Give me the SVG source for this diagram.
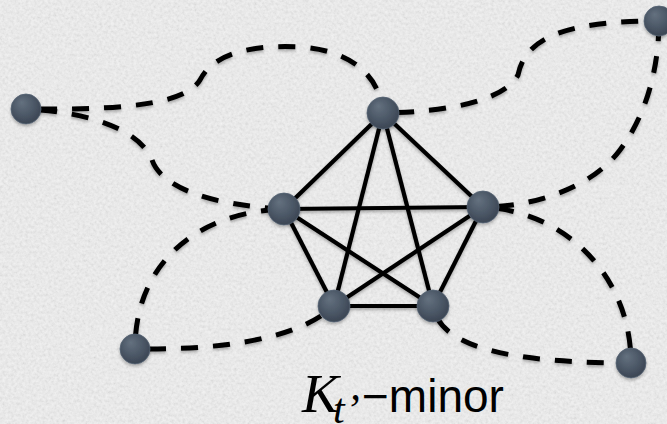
<svg xmlns="http://www.w3.org/2000/svg" width="667" height="424" viewBox="0 0 667 424">
  <defs>
    <filter id="paper" x="0" y="0" width="100%" height="100%">
      <feTurbulence type="fractalNoise" baseFrequency="0.35" numOctaves="3" seed="7" result="n"/>
      <feColorMatrix in="n" type="matrix" values="1 0 0 0 0  1 0 0 0 0  1 0 0 0 0  0 0 0 0 0.16"/>
    </filter>
    <filter id="shadow" x="-10%" y="-10%" width="120%" height="130%">
      <feDropShadow dx="0" dy="2" stdDeviation="1.6" flood-color="#000" flood-opacity="0.28"/>
    </filter>
    <radialGradient id="nodeGrad" cx="45%" cy="40%" r="60%" fx="35%" fy="28%">
      <stop offset="0" stop-color="#64717f"/>
      <stop offset="0.6" stop-color="#4c5867"/>
      <stop offset="1" stop-color="#3b4553"/>
    </radialGradient>
    <style>
      .dash { fill: none; stroke: #000; stroke-width: 5; stroke-dasharray: 17 15; stroke-dashoffset: 18; stroke-linecap: butt; }
      .edge { fill: none; stroke: #000; stroke-width: 4.2; stroke-linecap: butt; }
      .node { fill: url(#nodeGrad); stroke: #566373; stroke-width: 0.8; }
      .lbl { font-family: "Liberation Sans", Arial, sans-serif; font-size: 46px; fill: #000; }
      .math { font-family: "Liberation Serif", "Times New Roman", serif; font-style: italic; fill: #000; }
    </style>
  </defs>

  <rect x="0" y="0" width="667" height="424" fill="#f1f1f1"/>
  <rect x="0" y="0" width="667" height="424" filter="url(#paper)"/>

  <g id="connectors" filter="url(#shadow)">
    <path class="dash" d="M26,109 C120,110 185,105 200,80 C215,50 260,45 300,47 C350,50 380,75 383,113"/>
    <path class="dash" d="M26,109 C90,112 140,130 152,160 C162,188 210,205 284,209"/>
    <path class="dash" d="M135,349 C135,265 195,212 284,209"/>
    <path class="dash" d="M135,349 C210,350 295,342 334,306"/>
    <path class="dash" d="M433,306 C440,350 520,363 631,363"/>
    <path class="dash" d="M483,207 C570,212 631,280 631,363"/>
    <path class="dash" d="M483,207 C530,207 590,190 620,150 C650,110 659,60 659,21"/>
    <path class="dash" d="M383,113 C450,112 505,100 518,75 C525,40 560,21 659,21"/>

    <line class="edge" x1="383" y1="113" x2="284" y2="209"/>
    <line class="edge" x1="383" y1="113" x2="483" y2="207"/>
    <line class="edge" x1="383" y1="113" x2="334" y2="306"/>
    <line class="edge" x1="383" y1="113" x2="433" y2="306"/>
    <line class="edge" x1="284" y1="209" x2="483" y2="207"/>
    <line class="edge" x1="284" y1="209" x2="334" y2="306"/>
    <line class="edge" x1="284" y1="209" x2="433" y2="306"/>
    <line class="edge" x1="483" y1="207" x2="334" y2="306"/>
    <line class="edge" x1="483" y1="207" x2="433" y2="306"/>
    <line class="edge" x1="334" y1="306" x2="433" y2="306"/>
  </g>

  <g filter="url(#shadow)">
    <g id="p1"><circle class="node" cx="383" cy="113" r="16"/></g>
    <g id="p2"><circle class="node" cx="284" cy="209" r="16"/></g>
    <g id="p3"><circle class="node" cx="483" cy="207" r="16"/></g>
    <g id="p4"><circle class="node" cx="334" cy="306" r="16"/></g>
    <g id="p5"><circle class="node" cx="433" cy="306" r="16"/></g>
    <g id="o1"><circle class="node" cx="26" cy="109" r="15"/></g>
    <g id="o2"><circle class="node" cx="659" cy="21" r="15"/></g>
    <g id="o3"><circle class="node" cx="135" cy="349" r="15"/></g>
    <g id="o4"><circle class="node" cx="631" cy="363" r="15"/></g>
  </g>

  <g id="label">
    <text class="math" x="302" y="412" font-size="55">K</text>
    <text class="math" x="333" y="423" font-size="42">t</text>
    <text class="math" x="345" y="424" font-size="44">’</text>
    <text class="lbl" x="362" y="412">−minor</text>
  </g>
</svg>
